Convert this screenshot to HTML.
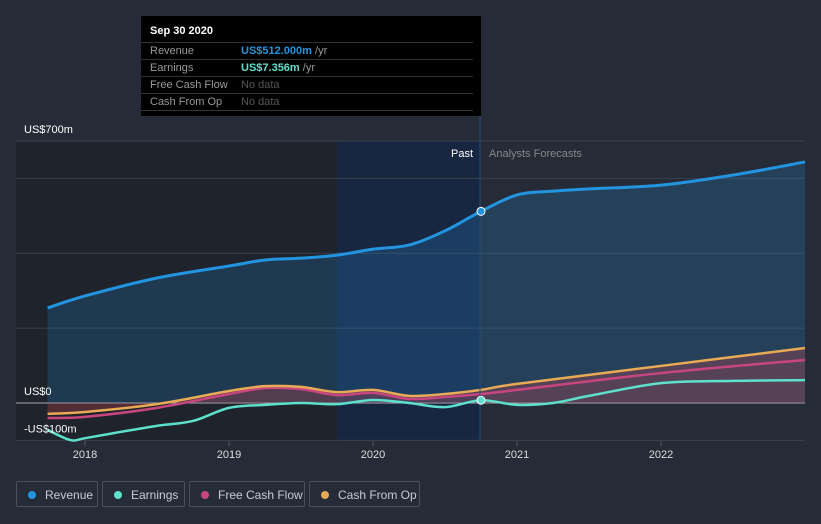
<!DOCTYPE html>
<html><head><meta charset="utf-8"><style>
body{margin:0;background:#252c38;width:821px;height:524px;overflow:hidden;font-family:"Liberation Sans",sans-serif}
svg{position:absolute;left:0;top:0}
.tip{position:absolute;left:141px;top:16px;width:340px;height:100px;background:#000;color:#999;font-size:11px}
.tip .h{color:#fff;font-weight:bold;font-size:11px;padding:9px 0 0 9px;height:17px}
.row{margin:0 8px 0 0;border-top:1px solid #333;height:16px;line-height:16px;display:flex;padding-left:9px}
.row span:first-child{width:91px}
.leg{position:absolute;top:481px;height:26px;border:1px solid #4a505c;border-radius:2px;color:#c8ccd4;font-size:12px;line-height:26px;box-sizing:border-box}
.leg i{position:absolute;left:11px;top:9px;width:8px;height:8px;border-radius:50%}
.leg span{position:absolute;left:28px}
</style></head><body>
<svg id="c" width="821" height="524"></svg>
<div class="tip">
<div class="h">Sep 30 2020</div>
<div class="row"><span>Revenue</span><span><b style="color:#2394df">US$512.000m</b> /yr</span></div>
<div class="row"><span>Earnings</span><span><b style="color:#5de0cc">US$7.356m</b> /yr</span></div>
<div class="row"><span>Free Cash Flow</span><span style="color:#555">No data</span></div>
<div class="row" style="border-bottom:1px solid #333"><span>Cash From Op</span><span style="color:#555">No data</span></div>
</div>
<div class="leg" style="left:16px;width:82px"><i style="background:#2394df"></i><span>Revenue</span></div>
<div class="leg" style="left:102px;width:83px"><i style="background:#5de0cc"></i><span>Earnings</span></div>
<div class="leg" style="left:189px;width:116px"><i style="background:#c8467f"></i><span>Free Cash Flow</span></div>
<div class="leg" style="left:309px;width:111px"><i style="background:#e8aa55"></i><span>Cash From Op</span></div>
<script>
const revT=[2017.74,2018,2018.5,2019,2019.25,2019.5,2019.75,2020,2020.25,2020.5,2020.75,2021,2021.25,2021.5,2022,2022.5,2023.0];
const revV=[254,286,334,366,382,387,395,411,422,460,512,556,566,572,582,609,644];
const earT=[2017.74,2017.9,2018,2018.25,2018.5,2018.75,2019,2019.25,2019.5,2019.75,2020,2020.25,2020.5,2020.75,2021,2021.25,2021.5,2022,2022.5,2023.0];
const earV=[-72,-99,-94,-77,-61,-48,-13,-5,0,-3,8,0,-11,7.4,-5,0,19,53,59,61];
const cfT=[2017.74,2018,2018.5,2019,2019.25,2019.5,2019.75,2020,2020.25,2020.5,2020.75,2021,2022,2023.0];
const fcfV=[-40,-37,-13,24,40,37,21,27,11,16,24,35,80,115];
const cfoV=[-29,-24,-3,32,45,43,29,35,19,24,35,51,99,147];
const yTicks=[700,0,-100];const yLabels=["US$700m","US$0","-US$100m"];
const xTicks=[2018,2019,2020,2021,2022];
const X=t=>85+(t-2018)*144, Y=v=>403-v*0.3743;
const s=document.getElementById('c'),NS='http://www.w3.org/2000/svg';
function el(n,a,name){const e=document.createElementNS(NS,n);for(const k in a)e.setAttribute(k,a[k]);


s.appendChild(e);return e;}
function path(T,V){const p=T.map((t,i)=>[X(t),Y(V[i])]);let d='M'+p[0];for(let i=0;i<p.length-1;i++){const a=p[i-1]||p[i],b=p[i],c=p[i+1],e=p[i+2]||c;
d+=' C'+(b[0]+(c[0]-a[0])/6)+','+(b[1]+(c[1]-a[1])/6)+' '+(c[0]-(e[0]-b[0])/6)+','+(c[1]-(e[1]-b[1])/6)+' '+c;}return d;}
el('rect',{x:16,y:141,width:464,height:300,fill:'#1f232c'},'past-region');
el('rect',{x:337,y:141,width:143,height:300,fill:'#172a48',opacity:.75},'highlight-band');
[700,600,400,200,0,-100].forEach(v=>el('line',{x1:16,x2:805,y1:Y(v),y2:Y(v),stroke:v==0?'#aaa':'#3a414d','stroke-width':1},'gridline'));
const rp=path(revT,revV);
el('path',{d:rp+` L${X(revT[revT.length-1])},${Y(0)} L${X(revT[0])},${Y(0)} Z`,fill:'#2394df',opacity:.2},'revenue-area');
const fp=path(cfT,fcfV);
el('path',{d:path(cfT,cfoV)+` L${X(cfT[cfT.length-1])},${Y(0)} L${X(cfT[0])},${Y(0)} Z`,fill:'#c84650',opacity:.3},'cashflow-area');
el('path',{d:path(earT,earV),fill:'none',stroke:'#5de0cc','stroke-width':2.5},'earnings-line');
el('path',{d:fp,fill:'none',stroke:'#c8467f','stroke-width':2.5},'fcf-line');
el('path',{d:path(cfT,cfoV),fill:'none',stroke:'#e8aa55','stroke-width':2.5},'cfo-line');
el('path',{d:rp,fill:'none',stroke:'#2394df','stroke-width':3},'revenue-line');
el('line',{x1:480,x2:480,y1:16,y2:441,stroke:'#234a7a','stroke-width':1},'past-divider');
el('circle',{cx:X(2020.75),cy:Y(512),r:4,fill:'#2394df',stroke:'#fff','stroke-width':1},'revenue-marker');
el('circle',{cx:X(2020.75),cy:Y(7.356),r:4,fill:'#5de0cc',stroke:'#fff','stroke-width':1},'earnings-marker');
yTicks.forEach((v,i)=>{const t=el('text',{x:24,y:Y(v)-8,fill:'#fff','font-size':11},'y-tick-label');t.textContent=yLabels[i];});
xTicks.forEach(v=>{el('line',{x1:X(v),x2:X(v),y1:441,y2:446,stroke:'#555'},'x-tick');const t=el('text',{x:X(v),y:458,fill:'#ddd','font-size':11,'text-anchor':'middle'},'x-tick-label');t.textContent=v;});
let t=el('text',{x:473,y:157,fill:'#fff','font-size':11,'text-anchor':'end'},'past-label');t.textContent='Past';
t=el('text',{x:489,y:157,fill:'#888','font-size':11},'forecast-label');t.textContent='Analysts Forecasts';
</script>
</body></html>
